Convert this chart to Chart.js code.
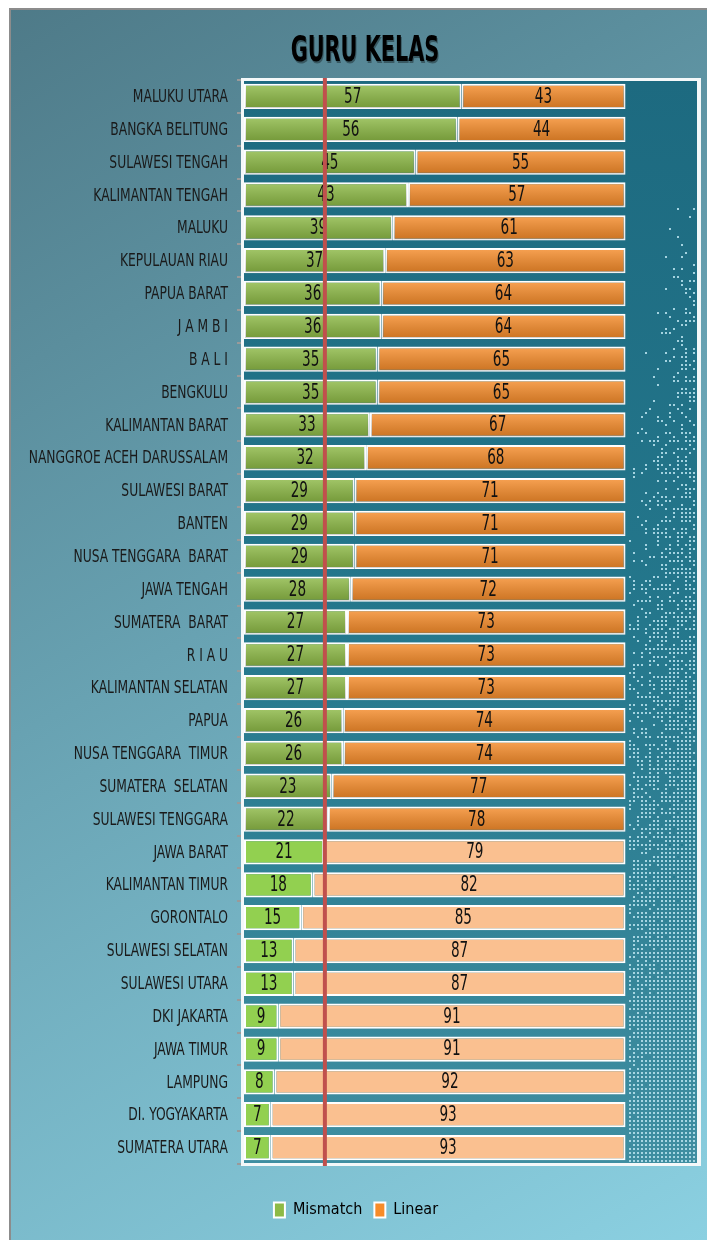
<!DOCTYPE html>
<html>
<head>
<meta charset="utf-8">
<title>Guru Kelas</title>
<script src="https://cdn.jsdelivr.net/npm/chart.js@4.4.1/dist/chart.umd.min.js"></script>
<style>
  html, body { margin: 0; padding: 0; background: #fff; }
  #wrap { width: 707px; height: 1240px; position: relative; }
</style>
</head>
<body>
<div id="wrap"><canvas id="guru-chart"></canvas></div>
<script>
const provinces = [
  'MALUKU UTARA', 'BANGKA BELITUNG', 'SULAWESI TENGAH', 'KALIMANTAN TENGAH', 'MALUKU',
  'KEPULAUAN RIAU', 'PAPUA BARAT', 'J A M B I', 'B A L I', 'BENGKULU',
  'KALIMANTAN BARAT', 'NANGGROE ACEH DARUSSALAM', 'SULAWESI BARAT', 'BANTEN',
  'NUSA TENGGARA  BARAT', 'JAWA TENGAH', 'SUMATERA  BARAT', 'R I A U',
  'KALIMANTAN SELATAN', 'PAPUA', 'NUSA TENGGARA  TIMUR', 'SUMATERA  SELATAN',
  'SULAWESI TENGGARA', 'JAWA BARAT', 'KALIMANTAN TIMUR', 'GORONTALO',
  'SULAWESI SELATAN', 'SULAWESI UTARA', 'DKI JAKARTA', 'JAWA TIMUR', 'LAMPUNG',
  'DI. YOGYAKARTA', 'SUMATERA UTARA'
];
const mismatch = [57, 56, 45, 43, 39, 37, 36, 36, 35, 35, 33, 32, 29, 29, 29, 28, 27, 27, 27, 26, 26, 23, 22, 21, 18, 15, 13, 13, 9, 9, 8, 7, 7];
const linear   = [43, 44, 55, 57, 61, 63, 64, 64, 65, 65, 67, 68, 71, 71, 71, 72, 73, 73, 73, 74, 74, 77, 78, 79, 82, 85, 87, 87, 91, 91, 92, 93, 93];
const refLine = 21.2;   // red vertical marker
const brightRows = 23;  // rows drawn in the strong colours
const chartTitle = 'GURU KELAS';

const FONT = '"DejaVu Sans Condensed", "Liberation Sans Narrow", sans-serif';

// draw squeezed text (the original uses a very narrow face)
function narrowText(c, txt, x, y, sx) {
  c.save();
  c.translate(x, y);
  c.scale(sx, 1);
  c.fillText(txt, 0, 0);
  c.restore();
}

// page background, frame, title
const bgPlugin = {
  id: 'bg',
  beforeDraw(chart) {
    const c = chart.ctx;
    c.save();
    c.fillStyle = '#fff';
    c.fillRect(0, 0, chart.width, chart.height);
    const g = c.createLinearGradient(9, 8, 707, 1240);
    g.addColorStop(0, '#4e7a88');
    g.addColorStop(0.45, '#68a2b2');
    g.addColorStop(1, '#8bd0e1');
    c.fillStyle = g;
    c.fillRect(9, 8, 698, 1232);
    c.strokeStyle = '#8c8c8c';
    c.lineWidth = 2;
    c.beginPath();
    c.moveTo(10, 1240); c.lineTo(10, 9); c.lineTo(707, 9);
    c.stroke();

    c.font = 'bold 35px ' + FONT;
    c.textAlign = 'center';
    c.textBaseline = 'middle';
    c.fillStyle = 'rgba(0,0,0,0.35)';
    narrowText(c, chartTitle, 366, 54, 0.66);
    c.fillStyle = '#000';
    narrowText(c, chartTitle, 365, 52, 0.66);
    c.restore();
  }
};

// plot area: white frame, teal fill with a dot texture on the right
const plotBgPlugin = {
  id: 'plotBg',
  beforeDatasetsDraw(chart) {
    const c = chart.ctx, a = chart.chartArea;
    c.save();
    c.fillStyle = '#f4f8f9';
    c.fillRect(a.left - 3, a.top - 2, a.right - a.left + 6, a.bottom - a.top + 4);
    const g = c.createLinearGradient(0, a.top, 0, a.bottom);
    g.addColorStop(0, '#1d6a80');
    g.addColorStop(0.5, '#24778c');
    g.addColorStop(1, '#3f8ea1');
    c.fillStyle = g;
    c.fillRect(a.left, a.top + 1, a.right - a.left - 1, a.bottom - a.top - 2);

    // dot texture, denser towards the bottom right
    const xs = chart.scales.x;
    const x100 = xs.getPixelForValue(100) + 3;
    c.fillStyle = 'rgba(178,222,234,0.9)';
    let k = 0;
    for (let y = a.top + 4; y < a.bottom - 2; y += 4) {
      const fy = (y - a.top) / (a.bottom - a.top);
      for (let x = a.right - 5; x > x100; x -= 4) {
        k++;
        const fx = (a.right - x) / (a.right - x100);
        const dens = Math.max(0, fy * 1.4 - fx * 0.55 + 0.08);
        const s = Math.sin(k * 12.9898) * 43758.5453;
        const h = s - Math.floor(s);
        if (h < dens) c.fillRect(x, y, 2, 2);
      }
    }
    c.restore();
  }
};

// province names, squeezed like the original
const yLabelPlugin = {
  id: 'yLabels',
  afterDraw(chart) {
    const c = chart.ctx, ys = chart.scales.y;
    c.save();
    c.fillStyle = '#1a1a1a';
    c.font = '18px ' + FONT;
    c.textAlign = 'right';
    c.textBaseline = 'middle';
    ys.ticks.forEach((t, i) => {
      narrowText(c, chart.data.labels[i], ys.right - 16, ys.getPixelForTick(i) + 1, 0.76);
    });
    c.restore();
  }
};

// bar shading, value labels, red marker line
const labelPlugin = {
  id: 'labels',
  afterDatasetsDraw(chart) {
    const c = chart.ctx;
    c.save();
    chart.data.datasets.forEach((ds, di) => {
      const meta = chart.getDatasetMeta(di);
      meta.data.forEach((el, i) => {
        const p = el.getProps(['x', 'y', 'base', 'height'], true);
        const x0 = Math.min(p.x, p.base), x1 = Math.max(p.x, p.base);
        const y0 = p.y - p.height / 2, y1 = p.y + p.height / 2;
        if (i < brightRows) {
          const g = c.createLinearGradient(0, y0, 0, y1);
          g.addColorStop(0, 'rgba(255,255,255,0.2)');
          g.addColorStop(1, 'rgba(0,0,0,0.18)');
          c.fillStyle = g;
          c.fillRect(x0 + 1, y0 + 1, x1 - x0 - 2, y1 - y0 - 2);
        }
        c.fillStyle = '#111';
        c.font = '21px ' + FONT;
        c.textAlign = 'center';
        c.textBaseline = 'middle';
        narrowText(c, String(ds.data[i]), (x0 + x1) / 2, p.y + 1, 0.72);
      });
    });
    const xs = chart.scales.x, a = chart.chartArea;
    const lx = xs.getPixelForValue(refLine);
    c.strokeStyle = '#c0504d';
    c.lineWidth = 4;
    c.beginPath();
    c.moveTo(lx, a.top - 2);
    c.lineTo(lx, a.bottom + 2);
    c.stroke();
    c.restore();
  }
};

const data = {
  labels: provinces,
  datasets: [
    {
      label: 'Mismatch',
      data: mismatch,
      backgroundColor: mismatch.map((v, i) => i < brightRows ? '#8dba45' : '#92d050'),
      borderColor: '#ffffff',
      borderWidth: 2,
      borderSkipped: false
    },
    {
      label: 'Linear',
      data: linear,
      backgroundColor: linear.map((v, i) => i < brightRows ? '#f78c29' : '#fac090'),
      borderColor: '#ffffff',
      borderWidth: 2,
      borderSkipped: false
    }
  ]
};

const config = {
  type: 'bar',
  data: data,
  options: {
    indexAxis: 'y',
    responsive: true,
    maintainAspectRatio: false,
    animation: false,
    datasets: { bar: { categoryPercentage: 1, barPercentage: 0.77 } },
    layout: { padding: { left: 14, right: 9, top: 80, bottom: 12 } },
    scales: {
      x: {
        stacked: true,
        min: 0,
        max: 119,
        ticks: { display: false },
        grid: { display: false },
        border: { display: false },
        afterFit: s => { s.height = 26; }
      },
      y: {
        stacked: true,
        ticks: { display: false, autoSkip: false },
        grid: {
          display: true,
          drawOnChartArea: false,
          drawTicks: true,
          tickLength: 7,
          offset: true,
          color: '#9a9a9a',
          lineWidth: 2
        },
        border: { display: true, color: '#9a9a9a', width: 3 },
        afterFit: s => { s.width = 230; }
      }
    },
    plugins: {
      title: { display: false },
      legend: {
        position: 'bottom',
        labels: {
          color: '#222',
          font: { family: FONT, size: 16 },
          boxWidth: 11,
          boxHeight: 15,
          padding: 12,
          generateLabels: chart => [
            { text: 'Mismatch', fillStyle: '#8dba45', strokeStyle: '#fff', lineWidth: 2, datasetIndex: 0 },
            { text: 'Linear', fillStyle: '#f78c29', strokeStyle: '#fff', lineWidth: 2, datasetIndex: 1 }
          ]
        }
      },
      tooltip: { enabled: false }
    }
  },
  plugins: [bgPlugin, plotBgPlugin, yLabelPlugin, labelPlugin]
};

const myChart = new Chart(document.getElementById('guru-chart'), config);
</script>
</body>
</html>
